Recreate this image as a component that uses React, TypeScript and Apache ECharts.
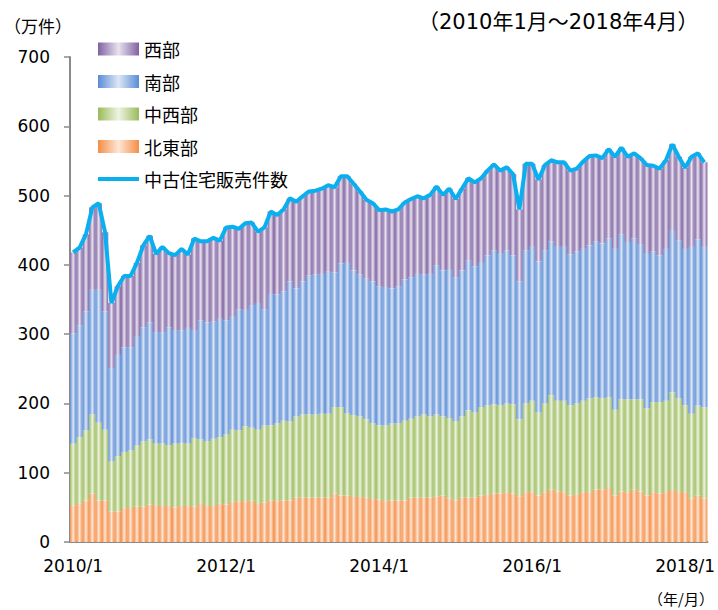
import React, { useEffect, useRef } from "react";
import * as echarts from "echarts";

// Monthly periods 2010/1 .. 2018/4
const START_YEAR = 2010;
const END_YEAR = 2018;
const END_MONTH = 4;
const categories: string[] = [];
for (let y = START_YEAR; y <= END_YEAR; y++) {
  for (let m = 1; m <= 12; m++) {
    if (y === END_YEAR && m > END_MONTH) break;
    categories.push(`${y}/${m}`);
  }
}

// 万件
const northeast = [
  53, 55, 60, 70, 60, 60, 44, 44, 49, 49, 51, 51, 54, 52, 52, 52, 50, 52, 52, 51, 55, 52, 52, 55, 54,
  58, 59, 59, 60, 55, 57, 60, 59, 60, 60, 64, 64, 64, 64, 64, 64, 70, 67, 67, 65, 65, 64, 62, 61, 59,
  60, 60, 60, 64, 64, 64, 64, 66, 67, 63, 60, 64, 64, 64, 67, 68, 70, 70, 72, 70, 66, 72, 72, 67, 72,
  76, 73, 72, 67, 68, 72, 72, 76, 76, 78, 67, 73, 72, 76, 73, 67, 72, 70, 72, 75, 72, 72, 63, 67, 63,
];
const midwest = [
  89, 96, 101, 114, 112, 102, 72, 80, 81, 83, 88, 94, 94, 90, 90, 88, 92, 91, 90, 99, 93, 93, 97, 96, 101,
  104, 102, 108, 105, 107, 111, 108, 112, 115, 114, 117, 120, 120, 120, 121, 121, 125, 127, 119, 118, 116, 113, 109, 107, 109,
  111, 111, 115, 114, 117, 120, 117, 118, 114, 116, 114, 117, 126, 123, 128, 129, 129, 127, 128, 129, 111, 128, 132, 120, 128,
  136, 131, 132, 130, 132, 132, 135, 133, 131, 131, 124, 133, 134, 130, 133, 126, 130, 132, 132, 141, 135, 125, 122, 130, 131,
];
const south = [
  159, 162, 172, 180, 192, 171, 135, 146, 151, 149, 157, 165, 169, 161, 161, 170, 164, 162, 167, 156, 172, 172, 169, 171, 165,
  163, 175, 168, 177, 183, 168, 190, 186, 187, 202, 185, 192, 201, 202, 202, 205, 194, 208, 218, 209, 205, 203, 205, 201, 200,
  195, 198, 204, 204, 206, 202, 206, 215, 211, 215, 208, 211, 216, 211, 209, 217, 222, 220, 221, 215, 199, 221, 222, 218, 221,
  222, 222, 222, 218, 219, 219, 221, 225, 224, 229, 232, 238, 227, 232, 223, 224, 217, 212, 219, 233, 228, 226, 241, 240, 232,
];
const west = [
  117, 112, 111, 119, 125, 114, 94, 99, 103, 103, 107, 118, 125, 113, 123, 107, 108, 118, 106, 132, 114, 117, 121, 113, 134,
  130, 116, 125, 119, 103, 118, 119, 115, 118, 120, 125, 123, 121, 121, 123, 125, 123, 126, 124, 125, 120, 114, 113, 110, 112,
  111, 111, 111, 113, 112, 110, 114, 114, 109, 116, 113, 118, 119, 121, 121, 122, 124, 119, 120, 117, 104, 125, 120, 118, 123,
  117, 122, 122, 121, 120, 126, 129, 124, 123, 129, 133, 125, 123, 123, 125, 127, 124, 125, 128, 125, 121, 117, 130, 124, 122,
];
const totalSales = [
  418, 425, 444, 483, 489, 447, 345, 369, 384, 384, 403, 428, 442, 416, 426, 417, 414, 423, 415, 438, 434, 434, 439, 435, 454,
  455, 452, 460, 461, 448, 454, 477, 472, 480, 496, 491, 499, 506, 507, 510, 515, 512, 528, 528, 517, 506, 494, 489, 479, 480,
  477, 480, 490, 495, 499, 496, 501, 513, 501, 510, 495, 510, 525, 519, 525, 536, 545, 536, 541, 531, 480, 546, 546, 523, 544,
  551, 548, 548, 536, 539, 549, 557, 558, 554, 567, 556, 569, 556, 561, 554, 544, 543, 539, 551, 574, 556, 540, 556, 561, 548,
];

const yTicks = { min: 0, max: 700, interval: 100 };

const grad = (dark: string, light: string) =>
  new echarts.graphic.LinearGradient(0, 0, 1, 0, [
    { offset: 0, color: dark },
    { offset: 0.5, color: light },
    { offset: 1, color: dark },
  ]);

const NUM_FONT = "'DejaVu Sans', 'Noto Sans CJK JP', sans-serif";
const JP_FONT = "'Noto Sans CJK JP', 'DejaVu Sans', sans-serif";

export default function App() {
  const ref = useRef<HTMLDivElement>(null);
  useEffect(() => {
    if (!ref.current) return;
    const chart = echarts.init(ref.current, undefined, { renderer: "svg" });
    const barBase = {
      type: "bar" as const,
      stack: "total",
      barCategoryGap: "0%",
    };
    chart.setOption({
      animation: false,
      backgroundColor: "#ffffff",
      grid: { left: 70, right: 7, top: 57, bottom: 68, containLabel: false },
      legend: {
        orient: "vertical",
        left: 93,
        top: 34,
        itemWidth: 41,
        itemHeight: 13,
        itemGap: 12.5,
        textStyle: { fontFamily: JP_FONT, fontSize: 18, color: "#000", lineHeight: 20 },
        data: [
          { name: "西部", icon: "rect" },
          { name: "南部", icon: "rect" },
          { name: "中西部", icon: "rect" },
          { name: "北東部", icon: "rect" },
          { name: "中古住宅販売件数", icon: "path://M0 0H41V4H0Z" },
        ],
        selectedMode: false,
      },
      xAxis: {
        type: "category",
        data: categories,
        boundaryGap: true,
        axisLine: { lineStyle: { color: "#8a8a8a", width: 2 } },
        axisTick: { interval: 23, length: 6, lineStyle: { color: "#8a8a8a", width: 1.5 } },
        axisLabel: {
          interval: 23,
          margin: 15,
          fontFamily: NUM_FONT,
          fontSize: 17,
          color: "#000",
        },
        splitLine: { show: false },
      },
      yAxis: {
        type: "value",
        min: yTicks.min,
        max: yTicks.max,
        interval: yTicks.interval,
        axisLine: { show: true, lineStyle: { color: "#8a8a8a", width: 2 } },
        axisTick: { show: true, length: 6, lineStyle: { color: "#8a8a8a", width: 1.5 } },
        axisLabel: { margin: 20, fontFamily: NUM_FONT, fontSize: 17, color: "#000" },
        splitLine: { show: false },
      },
      graphic: [
        {
          type: "text",
          left: 4,
          top: 17,
          style: { text: "（万件）", fontFamily: JP_FONT, fontSize: 17, fill: "#000" },
        },
        {
          type: "text",
          left: 418,
          top: 11,
          style: {
            text: "（2010年1月～2018年4月）",
            fontFamily: NUM_FONT,
            fontSize: 21,
            fill: "#000",
          },
        },
        {
          type: "text",
          left: 648,
          top: 591,
          style: { text: "（年/月）", fontFamily: JP_FONT, fontSize: 15, fill: "#000" },
        },
      ],
      series: [
        { ...barBase, name: "北東部", data: northeast, itemStyle: { color: grad("#F58E45", "#FDE6D6") } },
        { ...barBase, name: "中西部", data: midwest, itemStyle: { color: grad("#9ABB5A", "#EEF3E2") } },
        { ...barBase, name: "南部", data: south, itemStyle: { color: grad("#5A8CD6", "#DDE7F5") } },
        { ...barBase, name: "西部", data: west, itemStyle: { color: grad("#7F62A1", "#E8E2EF") } },
        {
          type: "line",
          name: "中古住宅販売件数",
          data: totalSales,
          symbol: "none",
          lineStyle: { color: "#0AAFEF", width: 4 },
          itemStyle: { color: "#0AAFEF" },
          z: 5,
        },
      ],
    });
    return () => chart.dispose();
  }, []);
  return (
    <div
      ref={ref}
      style={{ position: "fixed", left: 0, top: 0, width: 718, height: 610 }}
    />
  );
}
